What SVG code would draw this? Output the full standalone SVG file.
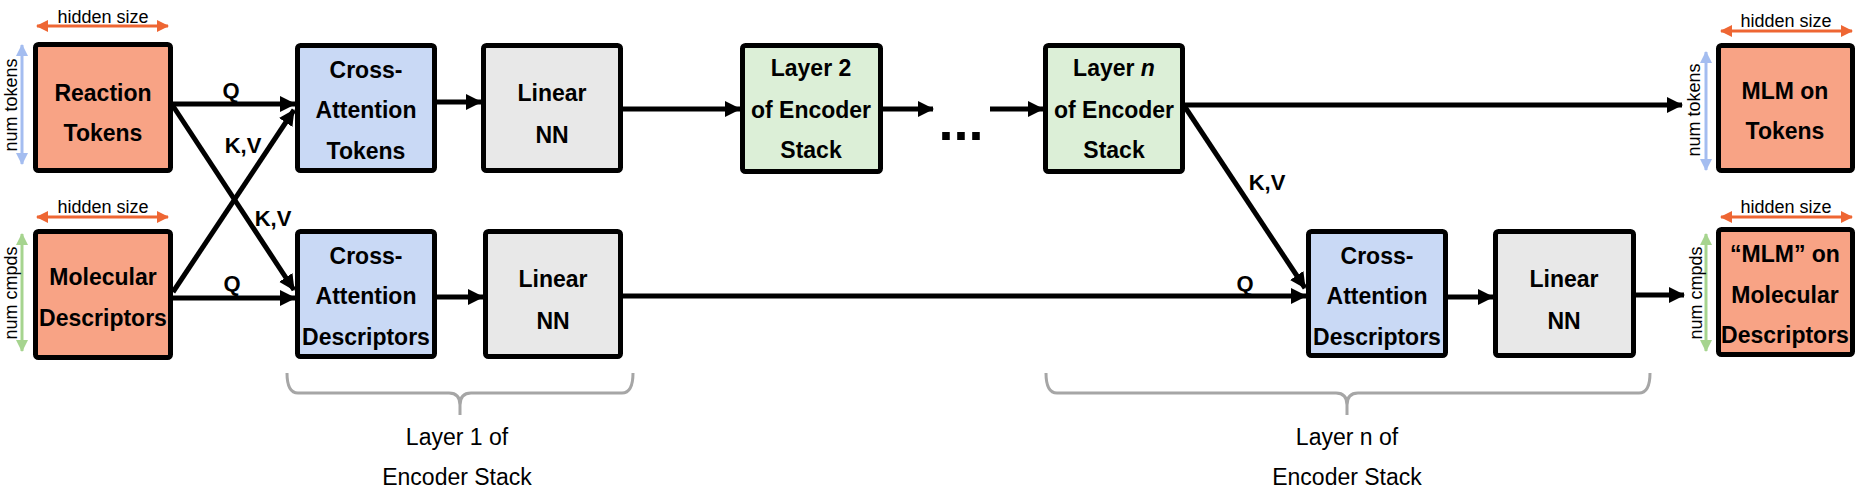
<svg xmlns="http://www.w3.org/2000/svg" width="1866" height="500" viewBox="0 0 1866 500">
<style>
.box{stroke:#000;stroke-width:5}
.red{fill:#f8a385}
.blue{fill:#c9d9f5}
.green{fill:#dcefd7}
.gray{fill:#e8e8e8}
.t{font-family:"Liberation Sans",Arial,sans-serif;font-weight:bold;font-size:23px;text-anchor:middle;fill:#000}
.lab{font-family:"Liberation Sans",Arial,sans-serif;font-weight:bold;font-size:22px;text-anchor:middle;fill:#000}
.dim{font-family:"Liberation Sans",Arial,sans-serif;font-size:18px;text-anchor:middle;fill:#000}
.cap{font-family:"Liberation Sans",Arial,sans-serif;font-size:23px;text-anchor:middle;fill:#000}
.c{fill:none;stroke:#000;stroke-width:5;marker-end:url(#ah)}
.brace{fill:none;stroke:#a6a6a6;stroke-width:3}
</style>
<defs>
<marker id="ah" markerUnits="userSpaceOnUse" markerWidth="16" markerHeight="16" refX="15" refY="8" orient="auto">
<path d="M0,0 L16,8 L0,16 z" fill="#000"/>
</marker>
<marker id="oa" markerUnits="userSpaceOnUse" markerWidth="12" markerHeight="12" refX="11" refY="6" orient="auto-start-reverse">
<path d="M0,0 L12,6 L0,12 z" fill="#ee6633"/>
</marker>
<marker id="ba" markerUnits="userSpaceOnUse" markerWidth="12" markerHeight="12" refX="11" refY="6" orient="auto-start-reverse">
<path d="M0,0 L12,6 L0,12 z" fill="#a4bdf0"/>
</marker>
<marker id="ga" markerUnits="userSpaceOnUse" markerWidth="12" markerHeight="12" refX="11" refY="6" orient="auto-start-reverse">
<path d="M0,0 L12,6 L0,12 z" fill="#a6d48f"/>
</marker>
</defs>

<g id="connectors">
<path class="c" d="M173,104 L295,104"/>
<path class="c" d="M173,106 L294,290"/>
<path class="c" d="M173,292 L294,110"/>
<path class="c" d="M173,298 L295,298"/>
<path class="c" d="M437,102 L481,102"/>
<path class="c" d="M623,109 L740,109"/>
<path class="c" d="M883,109 L933,109"/>
<path class="c" d="M990,109 L1043,109"/>
<path class="c" d="M1185,105 L1682,105"/>
<path class="c" d="M1185,107 L1305,288"/>
<path class="c" d="M437,297 L483,297"/>
<path class="c" d="M623,296 L1306,296"/>
<path class="c" d="M1448,297 L1493,297"/>
<path class="c" d="M1636,295 L1684,295"/>
<text class="lab" x="231" y="98">Q</text>
<text class="lab" x="243" y="153">K,V</text>
<text class="lab" x="273" y="226">K,V</text>
<text class="lab" x="232" y="291">Q</text>
<text class="lab" x="1267" y="190">K,V</text>
<text class="lab" x="1245" y="291">Q</text>
<text class="t" x="961" y="140" style="font-size:54px">...</text>
</g>

<g id="dims">
<path d="M37,26 L168,26" stroke="#ee6633" stroke-width="3" marker-start="url(#oa)" marker-end="url(#oa)"/>
<text class="dim" x="103" y="23">hidden size</text>
<path d="M37,217 L168,217" stroke="#ee6633" stroke-width="3" marker-start="url(#oa)" marker-end="url(#oa)"/>
<text class="dim" x="103" y="213">hidden size</text>
<path d="M22,45 L22,164" stroke="#a4bdf0" stroke-width="3" marker-start="url(#ba)" marker-end="url(#ba)"/>
<text class="dim" transform="translate(11,105) rotate(-90)" dominant-baseline="central">num tokens</text>
<path d="M22,234 L22,351" stroke="#a6d48f" stroke-width="3" marker-start="url(#ga)" marker-end="url(#ga)"/>
<text class="dim" transform="translate(11,293) rotate(-90)" dominant-baseline="central">num cmpds</text>
<path d="M1721,31 L1852,31" stroke="#ee6633" stroke-width="3" marker-start="url(#oa)" marker-end="url(#oa)"/>
<text class="dim" x="1786" y="27">hidden size</text>
<path d="M1721,217 L1852,217" stroke="#ee6633" stroke-width="3" marker-start="url(#oa)" marker-end="url(#oa)"/>
<text class="dim" x="1786" y="213">hidden size</text>
<path d="M1706,52 L1706,170" stroke="#a4bdf0" stroke-width="3" marker-start="url(#ba)" marker-end="url(#ba)"/>
<text class="dim" transform="translate(1694,110) rotate(-90)" dominant-baseline="central">num tokens</text>
<path d="M1706,234 L1706,351" stroke="#a6d48f" stroke-width="3" marker-start="url(#ga)" marker-end="url(#ga)"/>
<text class="dim" transform="translate(1696,293) rotate(-90)" dominant-baseline="central">num cmpds</text>
</g>

<g id="reaction-tokens">
<rect class="box red" x="35.5" y="44.5" width="135" height="126" rx="3"/>
<text class="t" x="103" y="101">Reaction</text>
<text class="t" x="103" y="141">Tokens</text>
</g>
<g id="molecular-descriptors">
<rect class="box red" x="35.5" y="231.5" width="135" height="126" rx="3"/>
<text class="t" x="103" y="285">Molecular</text>
<text class="t" x="103" y="326">Descriptors</text>
</g>
<g id="cross-attn-tokens-1">
<rect class="box blue" x="297.5" y="45.5" width="137" height="125" rx="3"/>
<text class="t" x="366" y="78">Cross-</text>
<text class="t" x="366" y="118">Attention</text>
<text class="t" x="366" y="159">Tokens</text>
</g>
<g id="linear-nn-tokens-1">
<rect class="box gray" x="483.5" y="45.5" width="137" height="125" rx="3"/>
<text class="t" x="552" y="101">Linear</text>
<text class="t" x="552" y="143">NN</text>
</g>
<g id="cross-attn-desc-1">
<rect class="box blue" x="297.5" y="231.5" width="137" height="125" rx="3"/>
<text class="t" x="366" y="264">Cross-</text>
<text class="t" x="366" y="304">Attention</text>
<text class="t" x="366" y="345">Descriptors</text>
</g>
<g id="linear-nn-desc-1">
<rect class="box gray" x="485.5" y="231.5" width="135" height="125" rx="3"/>
<text class="t" x="553" y="287">Linear</text>
<text class="t" x="553" y="329">NN</text>
</g>
<g id="layer-2">
<rect class="box green" x="742.5" y="45.5" width="138" height="126" rx="3"/>
<text class="t" x="811" y="76">Layer 2</text>
<text class="t" x="811" y="118">of Encoder</text>
<text class="t" x="811" y="158">Stack</text>
</g>
<g id="layer-n">
<rect class="box green" x="1045.5" y="45.5" width="137" height="126" rx="3"/>
<text class="t" x="1114" y="76">Layer <tspan font-style="italic">n</tspan></text>
<text class="t" x="1114" y="118">of Encoder</text>
<text class="t" x="1114" y="158">Stack</text>
</g>
<g id="cross-attn-desc-n">
<rect class="box blue" x="1308.5" y="231.5" width="137" height="124" rx="3"/>
<text class="t" x="1377" y="264">Cross-</text>
<text class="t" x="1377" y="304">Attention</text>
<text class="t" x="1377" y="345">Descriptors</text>
</g>
<g id="linear-nn-desc-n">
<rect class="box gray" x="1495.5" y="231.5" width="138" height="124" rx="3"/>
<text class="t" x="1564" y="287">Linear</text>
<text class="t" x="1564" y="329">NN</text>
</g>
<g id="mlm-tokens">
<rect class="box red" x="1718.5" y="45.5" width="134" height="125" rx="3"/>
<text class="t" x="1785" y="99">MLM on</text>
<text class="t" x="1785" y="139">Tokens</text>
</g>
<g id="mlm-descriptors">
<rect class="box red" x="1718.5" y="229.5" width="134" height="125" rx="3"/>
<text class="t" x="1785" y="262">“MLM” on</text>
<text class="t" x="1785" y="303">Molecular</text>
<text class="t" x="1785" y="343">Descriptors</text>
</g>

<g id="layer-1-brace">
<path class="brace" d="M287,373 Q287,393 298,393 L449,393 Q460,393 460,405 L460,415 M460,405 Q460,393 471,393 L622,393 Q633,393 633,373"/>
<text class="cap" x="457" y="445">Layer 1 of</text>
<text class="cap" x="457" y="485">Encoder Stack</text>
</g>
<g id="layer-n-brace">
<path class="brace" d="M1046,373 Q1046,393 1057,393 L1336,393 Q1347,393 1347,405 L1347,415 M1347,405 Q1347,393 1358,393 L1639,393 Q1650,393 1650,373"/>
<text class="cap" x="1347" y="445">Layer n of</text>
<text class="cap" x="1347" y="485">Encoder Stack</text>
</g>
</svg>
